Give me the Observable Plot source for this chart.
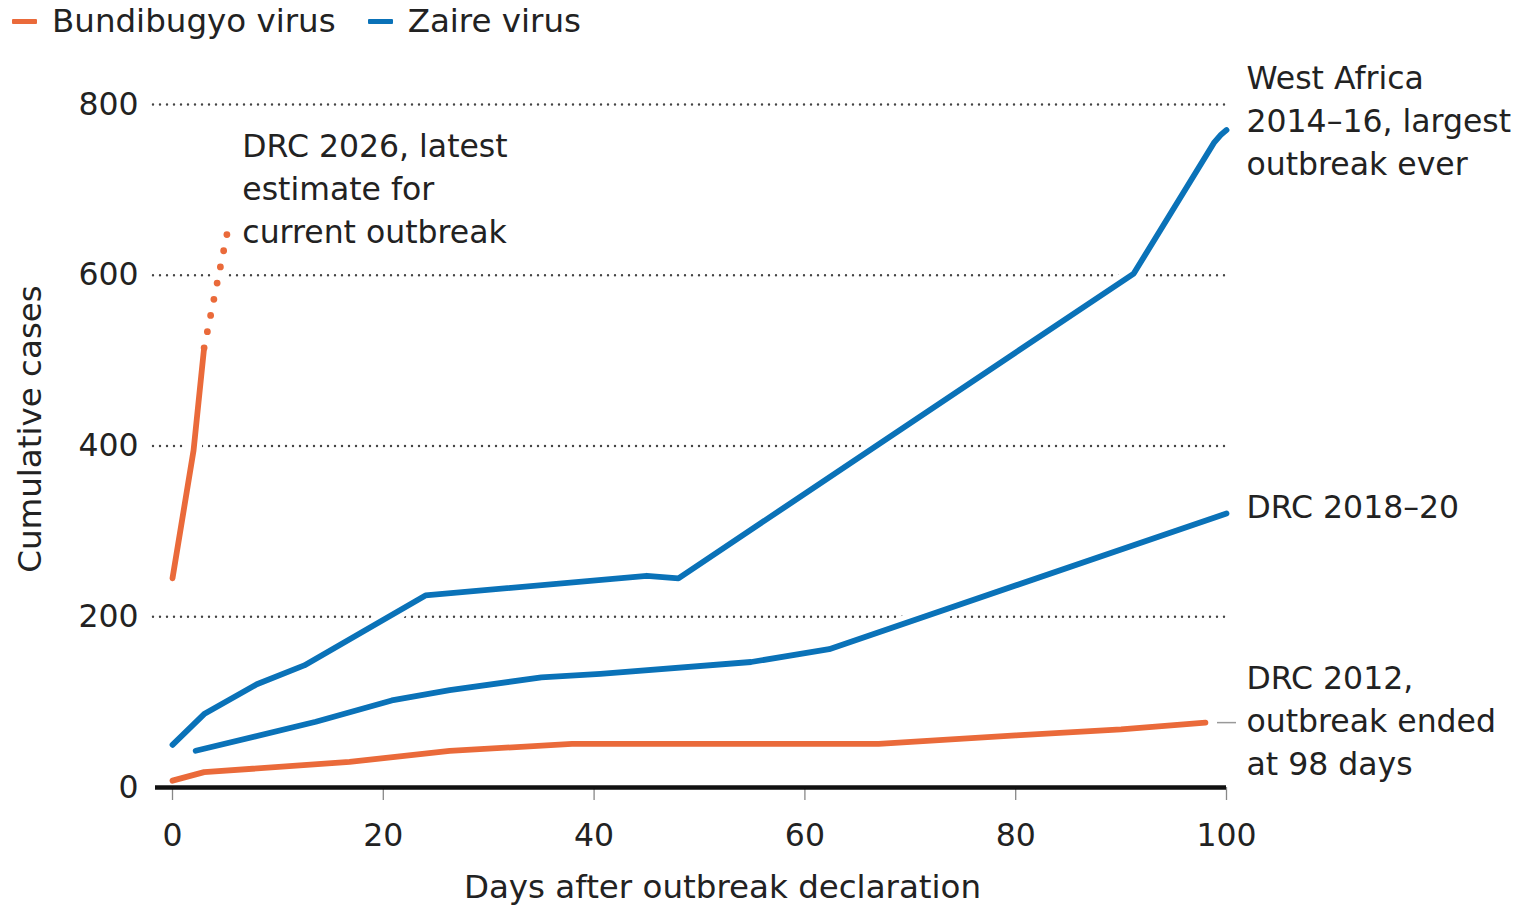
<!DOCTYPE html>
<html>
<head>
<meta charset="utf-8">
<script src="https://cdn.jsdelivr.net/npm/d3@7"></script>
<script src="https://cdn.jsdelivr.net/npm/@observablehq/plot@0.6"></script>
<style>
  body { margin: 0; background: #fff; font-family: "DejaVu Sans", "Noto Sans", sans-serif; color: #222; }
  #legend { height: 45px; display: flex; align-items: center; font-size: 32.5px; padding-left: 12px; box-sizing: border-box; padding-bottom: 3px; }
  #legend .item { display: flex; align-items: center; margin-right: 32px; }
  #legend .sw { display: inline-block; width: 25px; height: 5px; margin-right: 15px; border-radius: 1px; }
  #chart svg { display: block; }
</style>
</head>
<body>
<div id="legend"></div>
<div id="chart"></div>
<script>
// ---- Data ----
const virusNames = ["Bundibugyo virus", "Zaire virus"];
const virusColors = ["#ea6a3a", "#0a72b8"];

// Zaire virus: West Africa 2014–16
const westAfricaDays  = [0, 3, 8, 12.5, 24, 45, 48, 91.2, 98.8, 99.5, 100];
const westAfricaCases = [50, 86, 121, 143, 225, 248, 245, 602, 755, 765, 770];

// Zaire virus: DRC 2018–20
const drc2018Days  = [2.2, 13.6, 20.8, 26.3, 35, 40.6, 54.9, 62.3, 100];
const drc2018Cases = [43, 77, 102, 114, 129, 133, 147, 162, 321];

// Bundibugyo virus: DRC 2012
const drc2012Days  = [0, 3, 16.8, 26.3, 37.9, 55, 67, 80, 90, 98];
const drc2012Cases = [8, 18, 30, 43, 51, 51, 51, 61, 68, 76];

// Bundibugyo virus: DRC 2026 (reported, then latest estimate)
const drc2026Days  = [0, 2, 3];
const drc2026Cases = [245, 395, 515];
const drc2026EstDays  = [3, 5.2];
const drc2026EstCases = [515, 650];

// Axes
const xTicks = [0, 20, 40, 60, 80, 100];
const yTicks = [0, 200, 400, 600, 800];
const gridValues = [200, 400, 600, 800];
const xLabel = "Days after outbreak declaration";
const yLabel = "Cumulative cases";

// Annotations
const annoText  = ["West Africa\n2014–16, largest\noutbreak ever", "DRC 2018–20", "DRC 2012,\noutbreak ended\nat 98 days", "DRC 2026, latest\nestimate for\ncurrent outbreak"];
const annoDays  = [100, 100, 100, 5.2];
const annoCases = [783.5, 331.5, 81.5, 704.5];
const annoDx    = [20, 20, 20, 15];
const connectorDays = [99.1, 100.9];
const connectorCases = [76, 76];

const FONT = "'DejaVu Sans', 'Noto Sans', sans-serif";

// ---- Build tables ----
const toRows = (xs, ys) => xs.map((x, i) => ({day: x, cases: ys[i]}));
const solidSeries = [
  {rows: toRows(westAfricaDays, westAfricaCases), color: virusColors[1]},
  {rows: toRows(drc2018Days, drc2018Cases), color: virusColors[1]},
  {rows: toRows(drc2012Days, drc2012Cases), color: virusColors[0]},
  {rows: toRows(drc2026Days, drc2026Cases), color: virusColors[0]}
];
const estRows = toRows(drc2026EstDays, drc2026EstCases);
const annoRows = annoText.map((t, i) => ({text: t, day: annoDays[i], cases: annoCases[i], dx: annoDx[i]}));

// ---- Legend ----
const legend = document.getElementById("legend");
virusNames.forEach((n, i) => {
  const it = document.createElement("div");
  it.className = "item";
  it.innerHTML = `<span class="sw" style="background:${virusColors[i]}"></span><span>${n}</span>`;
  legend.appendChild(it);
});

// ---- Chart ----
const lineMarks = [];
for (const s of solidSeries) {
  lineMarks.push(Plot.line(s.rows, {x: "day", y: "cases", stroke: "white", strokeWidth: 16, strokeLinecap: "round", strokeLinejoin: "round"}));
}
lineMarks.push(Plot.line(estRows, {x: "day", y: "cases", stroke: "white", strokeWidth: 15, strokeLinecap: "round"}));
for (const s of solidSeries) {
  lineMarks.push(Plot.line(s.rows, {x: "day", y: "cases", stroke: s.color, strokeWidth: 5.8, strokeLinecap: "round", strokeLinejoin: "round"}));
}
lineMarks.push(Plot.line(estRows, {x: "day", y: "cases", stroke: virusColors[0], strokeWidth: 6.8, strokeLinecap: "round", strokeDasharray: "0,16.5"}));

const annoMarks = annoRows.map(r => Plot.text([r], {x: "day", y: "cases", text: "text", textAnchor: "start", lineAnchor: "middle", lineHeight: 1.365, dx: r.dx, fontSize: 31.5, fill: "#222"}));

const chart = Plot.plot({
  width: 1514,
  height: 862,
  marginTop: 59,
  marginBottom: 120,
  marginLeft: 172,
  marginRight: 288,
  x: {domain: [0, 100]},
  y: {domain: [0, 800]},
  style: {fontFamily: FONT, fontSize: "32px", color: "#222", background: "white", overflow: "visible"},
  marks: [
    Plot.ruleY(gridValues, {stroke: "#444", strokeWidth: 2.4, strokeDasharray: "0,7", strokeLinecap: "round", insetLeft: -19}),
    ...lineMarks,
    Plot.axisX({ticks: xTicks, tickSize: 13, tickPadding: 23, stroke: "#888", strokeWidth: 1.3, fill: "#222", fontSize: 31.5, label: null}),
    Plot.axisY({ticks: yTicks, tickSize: 0, tickPadding: 34, fill: "#222", fontSize: 31.5, label: null}),
    Plot.ruleY([0], {stroke: "#111", strokeWidth: 4.5, insetLeft: -17}),
    Plot.link([0], {x1: () => connectorDays[0], x2: () => connectorDays[1], y1: () => connectorCases[0], y2: () => connectorCases[1], stroke: "#999", strokeWidth: 1.5}),
    ...annoMarks,
    Plot.text([xLabel], {text: d => d, frameAnchor: "bottom", dy: 110, dx: 23, fontSize: 32.5, fill: "#222"}),
    Plot.text([yLabel], {text: d => d, frameAnchor: "left", textAnchor: "middle", lineAnchor: "middle", rotate: -90, dx: -142, dy: -17, fontSize: 32.5, fill: "#222"})
  ]
});
document.getElementById("chart").appendChild(chart);
</script>
</body>
</html>
